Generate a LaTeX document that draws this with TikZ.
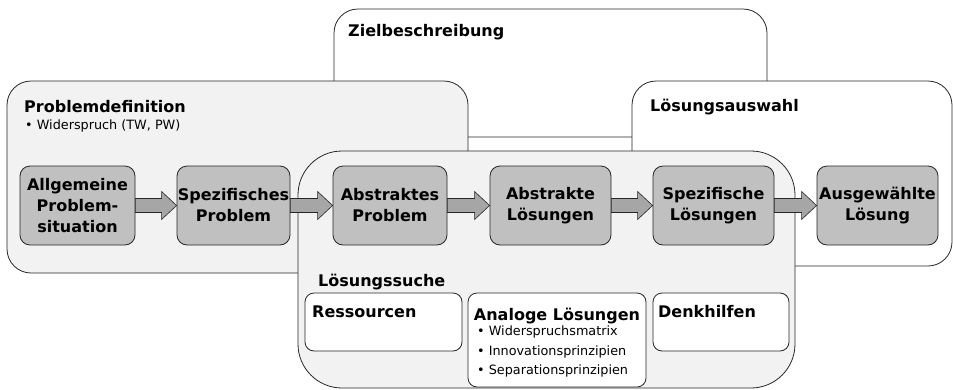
\documentclass[tikz,border=0pt]{standalone}
\usepackage{fontspec}
\setmainfont{DejaVu Sans}
\usetikzlibrary{calc}
\definecolor{panelgray}{HTML}{F2F2F2}
\definecolor{stepgray}{HTML}{C0C0C0}
\definecolor{arrowgray}{HTML}{A6A6A6}
\definecolor{framegray}{HTML}{262626}

% block arrow from the east side of #1 to the west side of #2
\newcommand{\blockarrow}[2]{%
  \draw[blockarrow] ($(#1.east)+(0,-7)$) -- ($(#2.west)+(-15,-7)$) -- ($(#2.west)+(-15,-14)$)
    -- (#2.west) -- ($(#2.west)+(-15,14)$) -- ($(#2.west)+(-15,7)$) -- ($(#1.east)+(0,7)$) -- cycle;}

\begin{document}
\begin{tikzpicture}[x=1pt,y=-1pt]
    \tikzset{
      region/.style={draw=framegray,line width=0.8pt,rounded corners=#1,inner sep=0pt},
      stepbox/.style={draw=framegray,fill=stepgray,line width=0.8pt,rounded corners=10pt,
        minimum width=#1,minimum height=79pt,inner sep=0pt,align=center,
        font=\fontsize{16}{21}\selectfont\bfseries},
      toolbox/.style={draw=framegray,fill=white,line width=0.8pt,rounded corners=9pt,inner sep=0pt},
      title/.style={anchor=west,inner sep=0pt,font=\fontsize{16}{20}\selectfont\bfseries},
      note/.style={inner sep=0pt,align=left,font=\fontsize{12.8}{19.5}\selectfont},
      blockarrow/.style={draw=framegray,fill=arrowgray,line width=0.6pt,line join=miter}
    }
    \useasboundingbox (0,0) rectangle (953,389);
    % regions
    \node[region=24pt,fill=white,minimum width=433pt,minimum height=128pt] (ziel) at (550.5,73) {};
    \node[region=24pt,fill=panelgray,minimum width=461pt,minimum height=192pt] (probdef) at (237.5,177) {};
    \node[region=24pt,fill=white,minimum width=320pt,minimum height=185pt] (auswahl) at (792,173.5) {};
    \node[region=44pt,fill=panelgray,minimum width=497pt,minimum height=237pt] (suche) at (546.5,269.5) {};
    \node[title] (zieltitle) at (348,32) {Zielbeschreibung};
    \node[title] (probtitle) at (24,107) {Problemdefinition};
    \node[note,anchor=west] (probnote) at (25,126) {• Widerspruch (TW, PW)};
    \node[title] (auswahltitle) at (650,107) {Lösungsauswahl};
    \node[title] (suchetitle) at (318,282) {Lösungssuche};
    % steps
    \node[stepbox=115pt] (allg) at (77.5,205.5) {Allgemeine\\Problem-\\situation};
    \node[stepbox=113pt] (spez) at (233.5,205.5) {Spezifisches\\Problem};
    \node[stepbox=114pt] (abstr) at (390,205.5) {Abstraktes\\Problem};
    \node[stepbox=121pt] (absl) at (550.5,205.5) {Abstrakte\\Lösungen};
    \node[stepbox=121pt] (spezl) at (713.5,205.5) {Spezifische\\Lösungen};
    \node[stepbox=121pt] (ausg) at (877.5,205.5) {Ausgewählte\\Lösung};
    \blockarrow{allg}{spez}
    \blockarrow{spez}{abstr}
    \blockarrow{abstr}{absl}
    \blockarrow{absl}{spezl}
    \blockarrow{spezl}{ausg}
    % solution aids
    \node[toolbox,minimum width=157pt,minimum height=58pt] (ress) at (383.5,322) {};
    \node[toolbox,minimum width=178pt,minimum height=94pt] (analog) at (557,340) {};
    \node[toolbox,minimum width=136pt,minimum height=58pt] (denk) at (721,322) {};
    \node[title] (resstitle) at (312,312) {Ressourcen};
    \node[title,anchor=center] (analogtitle) at (557,316) {Analoge Lösungen};
    \node[note,anchor=north west] (analognote) at (477,326) {• Widerspruchsmatrix\\• Innovationsprinzipien\\• Separationsprinzipien};
    \node[title] (denktitle) at (658,312) {Denkhilfen};
  \end{tikzpicture}
\end{document}
